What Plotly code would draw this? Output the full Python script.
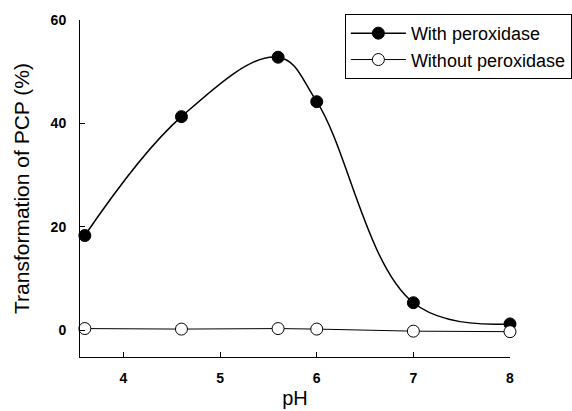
import plotly.graph_objects as go

ph = [3.6, 4.6, 5.6, 6.0, 7.0, 8.0]
with_perox = [18.3, 41.3, 52.8, 44.2, 5.3, 1.2]
without_perox = [0.3, 0.2, 0.3, 0.2, -0.2, -0.3]

fig = go.Figure()
fig.add_trace(go.Scatter(
    x=ph, y=with_perox, name="With peroxidase", mode="lines+markers",
    line=dict(color="black", width=1.5, shape="spline", smoothing=1.1),
    marker=dict(symbol="circle", size=12, color="black", line=dict(color="black", width=1)),
    cliponaxis=False))
fig.add_trace(go.Scatter(
    x=ph, y=without_perox, name="Without peroxidase", mode="lines+markers",
    line=dict(color="black", width=1),
    marker=dict(symbol="circle", size=12, color="white", line=dict(color="black", width=1)),
    cliponaxis=False))

fig.update_layout(
    width=572, height=411,
    margin=dict(l=80, r=62, t=20, b=54, autoexpand=False),
    paper_bgcolor="white", plot_bgcolor="white",
    font=dict(family="Liberation Sans, Arial, sans-serif", color="black"),
    showlegend=True,
    legend=dict(x=0.616, y=1.018, xanchor="left", yanchor="top",
                bordercolor="black", borderwidth=1, bgcolor="white",
                font=dict(size=18), tracegroupgap=0, itemwidth=55,
                entrywidth=165, entrywidthmode="pixels"),
    xaxis=dict(range=[3.55, 8.0], tickvals=[4, 5, 6, 7, 8], ticks="inside",
               ticklen=5, tickwidth=1, tickcolor="black", showline=True,
               linecolor="black", linewidth=1, showgrid=False, zeroline=False,
               automargin=False,
               tickfont=dict(size=14, family="Liberation Sans, Arial, sans-serif", weight="bold"),
               ticklabelstandoff=8,
               title=dict(text="pH", font=dict(size=20), standoff=6)),
    yaxis=dict(range=[-5.2, 60], tickvals=[0, 20, 40, 60], ticks="inside",
               ticklen=5, tickwidth=1, tickcolor="black", showline=True,
               linecolor="black", linewidth=1, showgrid=False, zeroline=False,
               automargin=False,
               tickfont=dict(size=14, family="Liberation Sans, Arial, sans-serif", weight="bold"),
               ticklabelstandoff=10,
               title=dict(text="Transformation of PCP (%)", font=dict(size=21), standoff=15)),
)
fig.write_html("out.html", post_script="document.body.style.margin='0';",
               config={"displayModeBar": False})
